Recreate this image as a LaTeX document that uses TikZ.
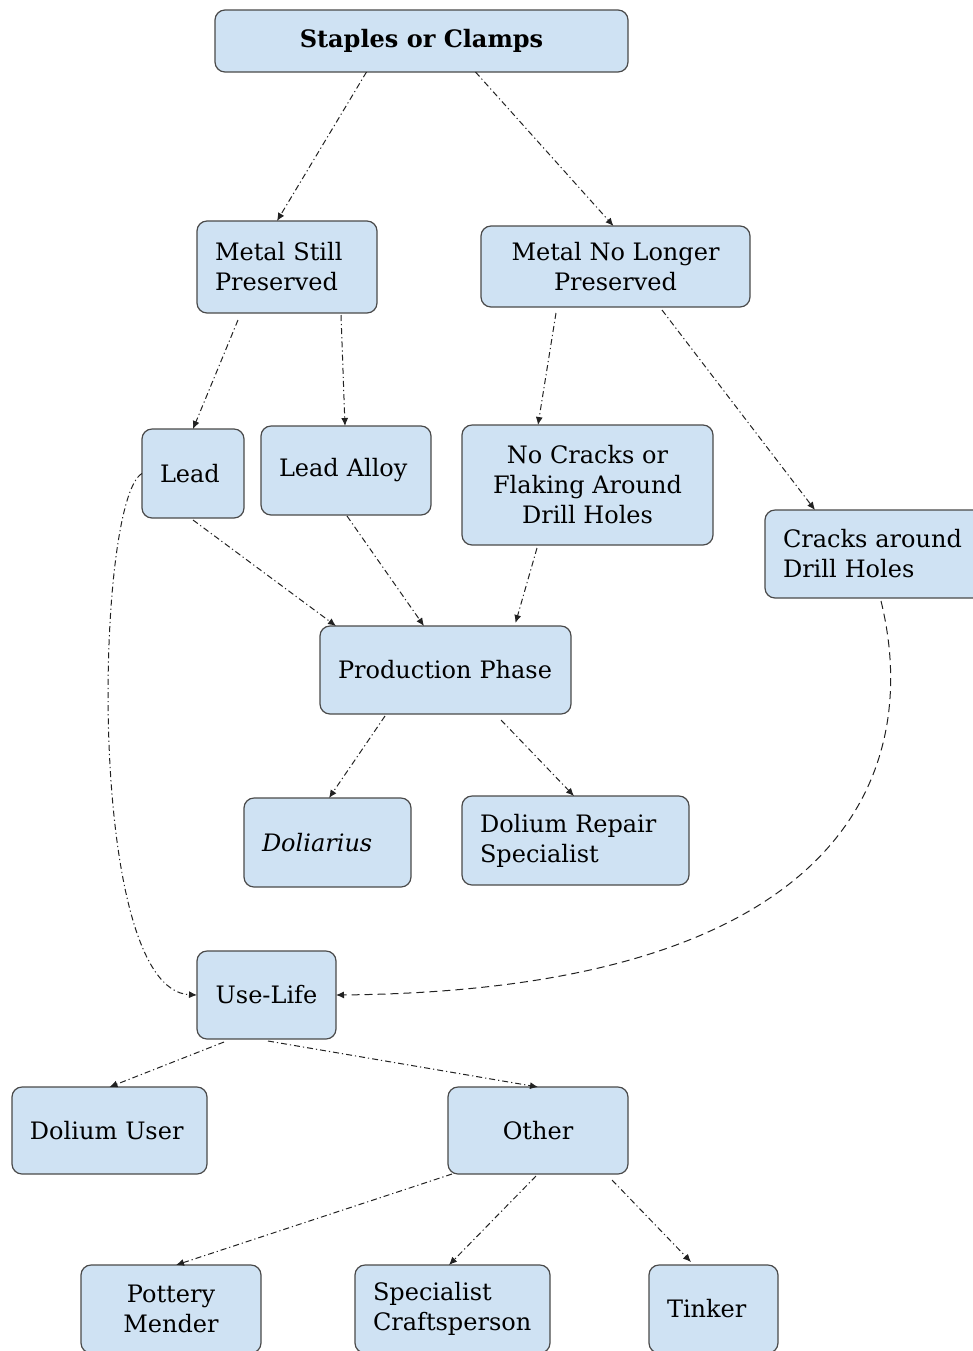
\documentclass[tikz,border=0pt]{standalone}
\usepackage{fontspec}
\setmainfont{DejaVu Serif}
\usetikzlibrary{positioning,calc,arrows.meta}
\definecolor{boxfill}{HTML}{CFE2F3}
\definecolor{boxline}{HTML}{4A4A4A}
\definecolor{linkline}{HTML}{222222}
\tikzstyle{cbox} = [rectangle, rounded corners=5pt, draw=boxline, fill=boxfill, line width=0.6pt, align=center, inner sep=0pt, outer sep=0pt, font=\fontsize{12}{15}\selectfont]
\tikzstyle{lbox} = [rectangle, rounded corners=5pt, draw=boxline, fill=boxfill, line width=0.6pt, align=left, inner xsep=9pt, inner ysep=0pt, outer sep=0pt, font=\fontsize{12}{15}\selectfont]
\tikzstyle{link} = [draw=linkline, line width=0.5pt, dash pattern=on 3pt off 1.5pt on 0.6pt off 1.5pt, -{Latex[length=4pt,width=3.5pt]}]
\tikzstyle{curvelink} = [draw=linkline, line width=0.5pt, dash pattern=on 4pt off 2.5pt, -{Latex[length=4pt,width=3.5pt]}]
\begin{document}
\begin{tikzpicture}[x=0.5pt, y=-0.5pt]
\useasboundingbox (0,0) rectangle (973,1351);

% Staples or Clamps
\node[cbox, minimum width=206.5pt, minimum height=31pt, font=\fontsize{12}{15}\selectfont\bfseries] (stap) at (421.5,41) {Staples or Clamps};

% Metal preserved or not
\node[lbox, text width=72pt, minimum height=46pt, below left=74.5pt and 22.25pt of stap.south] (still) {Metal Still\\Preserved};
\node[cbox, minimum width=134.5pt, minimum height=40.5pt, below right=77pt and 29.75pt of stap.south] (nolong) {Metal No Longer\\Preserved};
\draw[link] ($(stap.south)+(-55,0)$) -- ($(still.north)+(-10,0)$);
\draw[link] ($(stap.south)+(54,0)$) -- ($(nolong.north)+(-2,0)$);

% Lead / Lead Alloy
\node[lbox, text width=33pt, minimum height=44.5pt, below left=58pt and 21.5pt of still.south] (lead) {Lead};
\node[lbox, text width=67pt, minimum height=44.5pt, right=8.5pt of lead, yshift=1.5pt] (alloy) {Lead Alloy};
\draw[link] ($(still.south)+(-49,7)$) -- (lead.north);
\draw[link] ($(still.south)+(54,2)$) -- ($(alloy.north)+(-1,0)$);

% Drill holes
\node[cbox, minimum width=125.5pt, minimum height=60pt, below left=59pt and 18.5pt of nolong.south east] (nocrack) {No Cracks or\\Flaking Around\\Drill Holes};
\node[lbox, text width=92pt, minimum height=44pt, below right=101.5pt and 7.5pt of nolong.south east] (cracks) {Cracks around\\Drill Holes};
\draw[link] ($(nolong.south)+(-59.5,6)$) -- ($(nocrack.north)+(-49.5,0)$);
\draw[link] ($(nolong.south)+(46.5,3)$) -- ($(cracks.north)+(-60,0)$);

% Production Phase
\node[lbox, text width=107.5pt, minimum height=44pt, below right=55.5pt and 29.5pt of alloy.south west] (prod) {Production Phase};
\draw[link] ($(lead.south)+(0,2)$) -- ($(prod.north)+(-109.5,0)$);
\draw[link] ($(alloy.south)+(1,1)$) -- ($(prod.north)+(-21.5,0)$);
\draw[link] ($(nocrack.south)+(-50.5,3)$) -- ($(prod.north)+(70,-3)$);

% Producers
\node[lbox, text width=65.5pt, minimum height=44.5pt, below left=42pt and 17.25pt of prod.south] (dol) {\textit{Doliarius}};
\node[lbox, text width=95.5pt, minimum height=44.5pt, below right=41pt and 8.25pt of prod.south] (repair) {Dolium Repair\\Specialist};
\draw[link] ($(prod.south)+(-60.5,2)$) -- ($(dol.north)+(1.5,0)$);
\draw[link] ($(prod.south)+(55.5,6)$) -- ($(repair.north)+(-1.5,0)$);

% Use-Life
\node[cbox, minimum width=69.5pt, minimum height=44pt, below left=32pt and 37.5pt of dol.south east] (use) {Use-Life};
\draw[link] (lead.west) .. controls (95,500) and (85,990) .. (use.west);
\draw[curvelink] ($(cracks.south)+(6,3)$) .. controls (920,760) and (860,990) .. (use.east);

% Users
\node[lbox, text width=79.5pt, minimum height=43.5pt, below left=24pt and 29.75pt of use.south] (user) {Dolium User};
\node[cbox, minimum width=90pt, minimum height=43.5pt, below right=24pt and 56pt of use.south east] (other) {Other};
\draw[link] ($(use.south)+(-42.5,3)$) -- (user.north);
\draw[link] ($(use.south)+(1.5,2)$) -- (other.north);

% Other users
\node[cbox, minimum width=90pt, minimum height=44pt, below left=45.5pt and 93.5pt of other.south west] (pottery) {Pottery\\Mender};
\node[lbox, text width=79.5pt, minimum height=44pt, right=47pt of pottery] (special) {Specialist\\Craftsperson};
\node[lbox, text width=46.5pt, minimum height=44pt, right=49.5pt of special] (tinker) {Tinker};
\draw[link] ($(other.south)+(-86,0)$) -- ($(pottery.north)+(5,0)$);
\draw[link] ($(other.south)+(-2,2)$) -- ($(special.north)+(-3.5,0)$);
\draw[link] ($(other.south)+(74,6)$) -- ($(tinker.north)+(-22.5,-3)$);

\end{tikzpicture}
\end{document}
